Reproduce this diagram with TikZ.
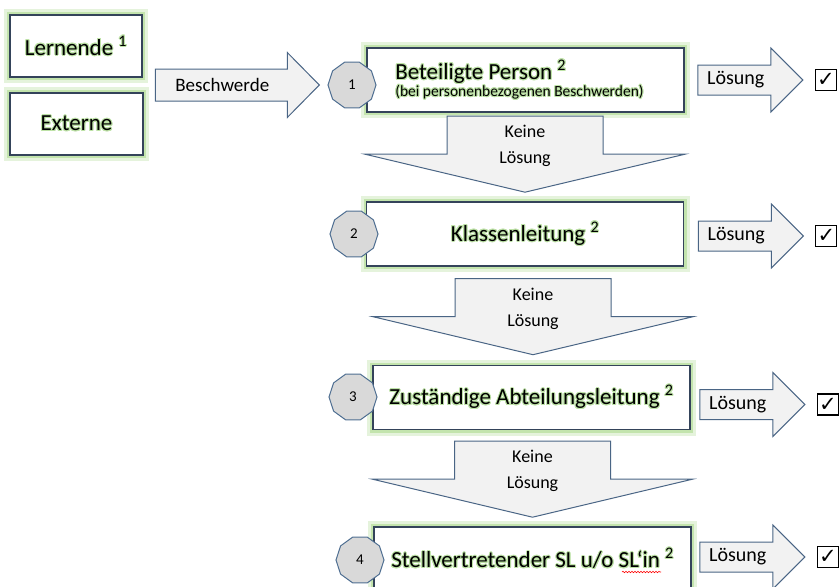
\documentclass[tikz,border=0pt]{standalone}
\usepackage{fontspec}
\setmainfont{Carlito}
\newfontfamily\hakenfont{DejaVu Sans}
\usepackage{contour}
\usetikzlibrary{shapes.geometric,calc,decorations.pathmorphing}

\definecolor{flussrand}{HTML}{34435A}
\definecolor{flussglow}{HTML}{A9D88A}
\definecolor{flusspfeil}{HTML}{F2F2F2}
\definecolor{flusspfeilrand}{HTML}{4A6585}
\definecolor{flussnummer}{HTML}{D9D9D9}
\definecolor{flussnummerrand}{HTML}{4E6E91}
\contourlength{1pt}
\newcommand\glowtext[1]{\contour{flussglow!75}{#1}}

\begin{document}
\begin{tikzpicture}[x=1pt,y=-1pt,
  stelle/.style={draw=flussrand, line width=1.6pt, fill=white,
    minimum width=317pt, minimum height=64pt, inner sep=2pt,
    font=\fontsize{23}{27}\selectfont,
    preaction={draw=flussglow!30, line width=12pt},
    preaction={draw=flussglow!70, line width=6pt}},
  nummer/.style={regular polygon, regular polygon sides=10, draw=flussnummerrand,
    fill=flussnummer, line width=1pt, minimum size=48pt, inner sep=0pt,
    font=\fontsize{15}{17}\selectfont},
  blockpfeil/.style={draw=flusspfeilrand, fill=flusspfeil, line width=1pt},
  pfeiltext/.style={font=\fontsize{20}{24}\selectfont, inner sep=0pt},
  haken/.style={draw=black, line width=1.2pt, minimum size=21pt, inner sep=0pt,
    font=\hakenfont\fontsize{21}{21}\selectfont},
  pics/loesung/.style={code={
    \draw[blockpfeil] (0,-15) -- (73,-15) -- (73,-32) -- (105,0) -- (73,32)
      -- (73,15) -- (0,15) -- cycle;
    \node[pfeiltext] (-text) at (38,0) {Lösung};
    \node[haken] (-ok) at (128,0) {✓};
  }},
  pics/keine/.style={code={
    \draw[blockpfeil] (0,0) -- (-160,-38) -- (-78,-38) -- (-78,-76) -- (78,-76)
      -- (78,-38) -- (160,-38) -- cycle;
    \node[pfeiltext, font=\fontsize{18}{26}\selectfont, align=center] (-text)
      at (0,-46) {Keine\\Lösung};
  }}]
\useasboundingbox (0,0) rectangle (839,587);

% wer sich beschwert
\node[stelle, minimum width=132pt, minimum height=62pt] (lern) at (76,46)
  {\glowtext{Lernende \textsuperscript{1}}};
\node[stelle, minimum width=133pt, minimum height=62pt] (ext) at (76.5,124)
  {\glowtext{Externe}};

% die vier Stufen
\node[stelle, align=left] (p1) at (525.5,80)
  {\glowtext{Beteiligte Person \textsuperscript{2}}\\[-10pt]
   {\fontsize{15.5}{15.5}\selectfont\glowtext{(bei personenbezogenen Beschwerden)}}\hspace*{12pt}};
\node[stelle] (p2) at (525,234) {\glowtext{Klassenleitung \textsuperscript{2}}};
\node[stelle] (p3) at (531.5,397.5)
  {\glowtext{Zuständige Abteilungsleitung \textsuperscript{2}}};
\node[stelle] (p4) at (532.5,559)
  {\glowtext{Stellvertretender SL u/o SL‘in \textsuperscript{2}}};
\draw[red, line width=0.6pt, decorate,
  decoration={snake, amplitude=0.7pt, segment length=3pt}] (622,572) -- (661,572);

\node[nummer] (c1) at (352,85) {1};
\node[nummer] (c2) at (354,234) {2};
\node[nummer] (c3) at (353,397) {3};
\node[nummer] (c4) at (360,560) {4};

% Beschwerde
\coordinate (bs) at ($(lern.east)!0.5!(ext.east)+(12,0)$);
\draw[blockpfeil] (bs) ++(0,-16) -- ++(132,0) -- ++(0,-16.5) -- ++(32,32.5)
  -- ++(-32,32.5) -- ++(0,-16.5) -- ++(-132,0) -- cycle;
\node[pfeiltext, font=\fontsize{19}{22}\selectfont] (beschwerde)
  at ($(bs)+(67,0)$) {Beschwerde};

% Lösung nach rechts
\pic (l1) at ([xshift=13pt]p1.east) {loesung};
\pic (l2) at ([xshift=14pt,yshift=-2pt]p2.east) {loesung};
\pic (l3) at ([xshift=9pt,yshift=-7pt]p3.east) {loesung};
\pic (l4) at ([xshift=8pt,yshift=2pt]p4.east) {loesung};

% keine Lösung nach unten
\pic (k1) at ([yshift=9pt]p2.north) {keine};
\pic (k2) at ([xshift=1.5pt,yshift=10pt]p3.north) {keine};
\pic (k3) at ([yshift=9pt]p4.north) {keine};
\end{tikzpicture}
\end{document}
